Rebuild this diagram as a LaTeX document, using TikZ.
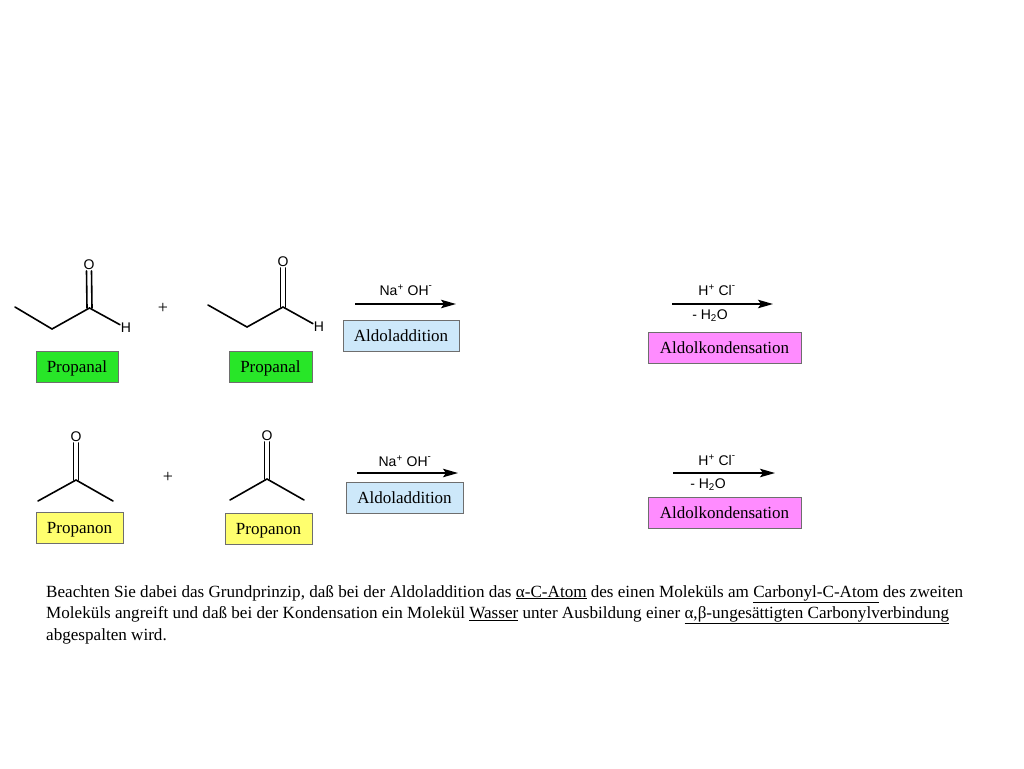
\documentclass[tikz,border=0pt]{standalone}
\usepackage{fontspec}
\setmainfont{Liberation Serif}
\newfontfamily\chemfont{Liberation Sans}
\usetikzlibrary{arrows.meta}
\definecolor{boxgreen}{RGB}{40,230,40}
\definecolor{boxyellow}{RGB}{255,255,110}
\definecolor{boxblue}{RGB}{205,232,250}
\definecolor{boxpink}{RGB}{255,140,255}
\definecolor{boxline}{RGB}{110,110,110}
\newcommand{\supminus}{\textsuperscript{\raisebox{0.35ex}{-}}}
\tikzset{
  namebox/.style={draw=boxline, line width=0.9pt, minimum height=31pt, inner sep=0pt, text height=11.3pt, text depth=0pt, font=\fontsize{17}{19}\selectfont},
  atom/.style={inner sep=0.8pt, font=\chemfont\fontsize{14}{16}\selectfont},
  bond/.style={line width=1.6pt, line cap=round},
  rxn/.style={line width=1.6pt, -{Stealth[length=15pt,width=8.5pt,inset=3pt]}},
  reag/.style={inner sep=0pt, font=\chemfont\fontsize{14}{16}\selectfont},
  plussign/.style={font=\fontsize{18}{20}\selectfont, inner sep=0pt},
  para/.style={anchor=base west, inner sep=0pt, font=\fontsize{17.1}{21.5}\selectfont}
}
\begin{document}
\begin{tikzpicture}[x=1pt,y=-1pt]
\useasboundingbox[fill=white] (0,0) rectangle (1024,768);

% ---------- Propanal 1
\coordinate (a1) at (15,307);
\coordinate (a2) at (52,329);
\coordinate (a3) at (89.5,308);
\node[atom] (aO) at (89,265) {O};
\node[atom] (aH) at (126,328) {H};
\draw[bond] (a1) -- (a2) -- (a3) -- (aH);
\draw[bond] ([xshift=-2.5]a3) -- ([xshift=-2.5]aO.south);
\draw[bond] ([xshift=2.5]a3) -- ([xshift=2.5]aO.south);
\node[namebox, fill=boxgreen, minimum width=82pt] (pal1) at (77,366.5) {Propanal};

\node[plussign] (plus1) at (163,308) {+};

% ---------- Propanal 2
\coordinate (b1) at (208,305);
\coordinate (b2) at (247,327);
\coordinate (b3) at (283,307);
\node[atom] (bO) at (283,262) {O};
\node[atom] (bH) at (319,327) {H};
\draw[bond] (b1) -- (b2) -- (b3) -- (bH);
\draw[bond] ([xshift=-2.5]b3) -- ([xshift=-2.5]bO.south);
\draw[bond] ([xshift=2.5]b3) -- ([xshift=2.5]bO.south);
\node[namebox, fill=boxgreen, minimum width=83pt] (pal2) at (270.5,367) {Propanal};

% ---------- Row 1 arrows
\coordinate (r1s) at (355,304);
\coordinate (r1e) at (456,304);
\draw[rxn] (r1s) -- (r1e);
\node[reag] (r1t) at (406,290) {Na\textsuperscript{+} OH\supminus};
\node[namebox, fill=boxblue, minimum width=116pt] (add1) at (401,335.5) {Aldoladdition};

\coordinate (r2s) at (672,304);
\coordinate (r2e) at (773,304);
\draw[rxn] (r2s) -- (r2e);
\node[reag] (r2t) at (717,290) {H\textsuperscript{+} Cl\supminus};
\node[reag] (r2b) at (710,316) {- H\textsubscript{2}O};
\node[namebox, fill=boxpink, minimum width=153pt] (kon1) at (724.5,347.5) {Aldolkondensation};

% ---------- Propanon 1
\coordinate (c1) at (38,501);
\coordinate (c2) at (76,480);
\coordinate (c3) at (113,501);
\node[atom] (cO) at (76,437) {O};
\draw[bond] (c1) -- (c2) -- (c3);
\draw[bond] ([xshift=-2.5]c2) -- ([xshift=-2.5]cO.south);
\draw[bond] ([xshift=2.5]c2) -- ([xshift=2.5]cO.south);
\node[namebox, fill=boxyellow, minimum width=87pt] (pon1) at (79.5,528) {Propanon};

\node[plussign] (plus2) at (168,477) {+};

% ---------- Propanon 2
\coordinate (d1) at (230,500);
\coordinate (d2) at (267,479);
\coordinate (d3) at (304,500);
\node[atom] (dO) at (267,436) {O};
\draw[bond] (d1) -- (d2) -- (d3);
\draw[bond] ([xshift=-2.5]d2) -- ([xshift=-2.5]dO.south);
\draw[bond] ([xshift=2.5]d2) -- ([xshift=2.5]dO.south);
\node[namebox, fill=boxyellow, minimum width=87pt] (pon2) at (268.5,528.5) {Propanon};

% ---------- Row 2 arrows
\coordinate (r3s) at (357,473);
\coordinate (r3e) at (458,473);
\draw[rxn] (r3s) -- (r3e);
\node[reag] (r3t) at (405,461) {Na\textsuperscript{+} OH\supminus};
\node[namebox, fill=boxblue, minimum width=117pt] (add2) at (404.5,497.5) {Aldoladdition};

\coordinate (r4s) at (673,473);
\coordinate (r4e) at (775,473);
\draw[rxn] (r4s) -- (r4e);
\node[reag] (r4t) at (717,460) {H\textsuperscript{+} Cl\supminus};
\node[reag] (r4b) at (708,485) {- H\textsubscript{2}O};
\node[namebox, fill=boxpink, minimum width=153pt] (kon2) at (724.5,512.5) {Aldolkondensation};

% ---------- Paragraph
\node[para] (t1) at (46,597) {Beachten Sie dabei das Grundprinzip, daß bei der Aldoladdition das \underline{α-C-Atom} des einen Moleküls am \underline{Carbonyl-C-Atom} des zweiten};
\node[para] (t2) at (46,618.5) {Moleküls angreift und daß bei der Kondensation ein Molekül \underline{Wasser} unter Ausbildung einer \underline{α,β-ungesättigten Carbonylverbindung}};
\node[para] (t3) at (46,640) {abgespalten wird.};
\end{tikzpicture}
\end{document}
